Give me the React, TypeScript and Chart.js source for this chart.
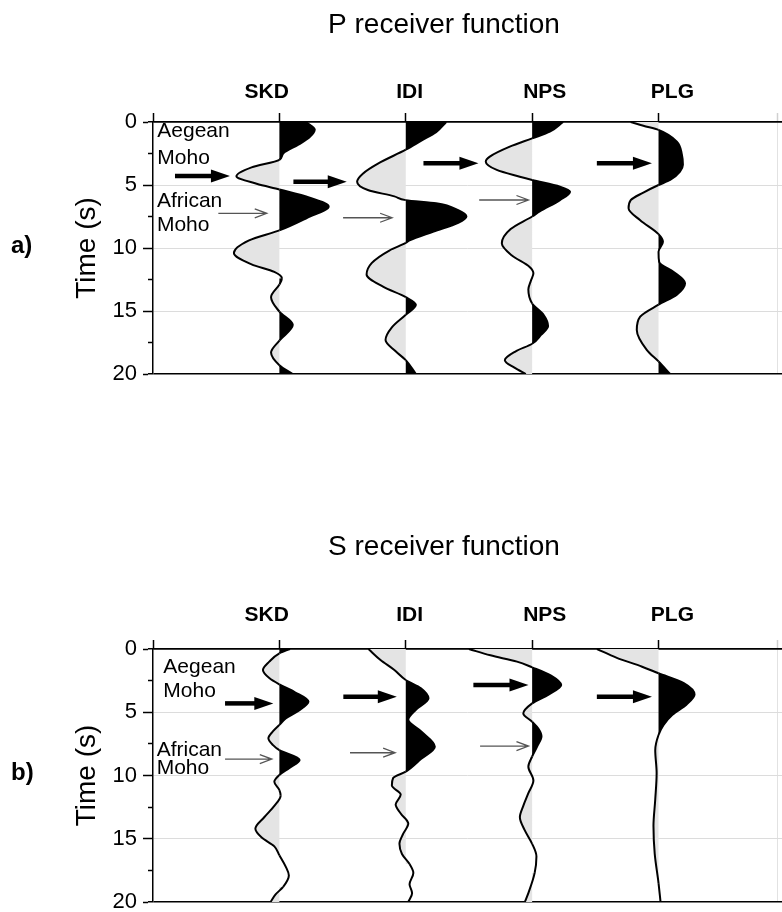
import React, { useEffect, useRef } from 'react';
import { Chart, registerables } from 'chart.js';

Chart.register(...registerables);

const FONT = '"Liberation Sans", Arial, Helvetica, sans-serif';
const POS_FILL = '#000000';
const NEG_FILL = '#e4e4e4';

// ---- axes / categories ----
const stations = ['SKD', 'IDI', 'NPS', 'PLG'];
const baselines = [100, 200, 300, 400]; // trace zero lines (x units, 100 = trace spacing)
const stationLabelX = [90, 203, 310, 411];
const timeTicks = [0, 5, 10, 15, 20];

// ---- P receiver functions (time in s, amplitude in trace units) ----
const pSkdTime = [0, 0.6, 1.2, 1.8, 2.5, 3.0, 3.6, 4.3, 4.9, 5.35, 6.0, 6.7, 7.6, 8.6, 9.4, 10.4, 11.3, 11.9, 12.4, 12.9, 13.9, 15.05, 16.1, 17.35, 18.3, 19.3, 20];
const pSkdAmp = [21, 28, 24, 15, 3, 0, -22, -34, -18, 0, 24, 39, 22, 0, -24, -36, -22, -4, 2, 0, -6.6, 0, 10.6, 0, -6.6, 0, 10.6];

const pIdiTime = [0, 0.8, 1.5, 2.2, 3.3, 4.1, 4.74, 5.4, 5.9, 6.2, 6.45, 7.0, 7.5, 8.0, 8.7, 9.4, 9.6, 10.2, 11.2, 12.1, 13.07, 13.9, 14.5, 15.3, 16.3, 17.3, 18.2, 18.9, 20];
const pIdiAmp = [32, 24, 12, 0, -22, -34, -38.5, -30, -9, 0, 24, 41.5, 48, 41.5, 22, 3, 0, -13, -27, -31, -18, 0, 8, 0, -11, -16, -8, 0, 8];

const pNpsTime = [0, 0.77, 1.3, 1.96, 2.75, 3.15, 3.8, 4.34, 4.6, 5.13, 5.53, 6.2, 7.1, 7.5, 8.5, 9.63, 10.6, 11.5, 12.0, 12.6, 13.3, 14.4, 15.3, 16.2, 16.9, 17.6, 18.2, 18.9, 19.5, 20];
const pNpsAmp = [24.5, 14, 0, -17.7, -33.5, -36.7, -28, -9.8, 0, 22, 30, 22, 6, 0, -17, -24, -16, -2, 1, -1, -3, 0, 9, 12.6, 7, 0, -13, -21.6, -14, -5];

const pPlgTime = [0, 0.3, 0.63, 1.56, 2.6, 3.4, 3.94, 4.6, 5.0, 5.6, 6.2, 6.85, 7.8, 8.9, 9.5, 10.3, 11.1, 11.9, 12.8, 13.7, 14.5, 15.45, 16.5, 18.1, 19.0, 20];
const pPlgAmp = [-22, -12, 0, 14.5, 18.5, 19.3, 17, 9.2, 0, -12, -22, -23.7, -14.5, 0, 3.5, 0, 0.5, 12, 21, 14.5, 0, -14.5, -17.2, -9.2, 0, 9.2];

// ---- S receiver functions ----
const sSkdTime = [0, 0.34, 1.0, 1.66, 2.3, 2.8, 3.4, 4.16, 4.9, 5.5, 6.0, 6.5, 7.06, 7.6, 8.0, 8.77, 9.4, 9.96, 10.5, 11.15, 11.6, 12.4, 13.3, 14.2, 14.9, 15.6, 16.3, 17.2, 17.9, 18.8, 19.4, 20];
const sSkdAmp = [8.4, 0, -8, -13, -8, 0, 12, 23, 15, 5, 0, -5, -8.7, -5, 0, 16, 8, 0, -4, 0, 1, -4, -12, -19, -14, -4, 0, 5, 7.5, 3, -3, -7];

const sIdiTime = [0, 0.87, 1.66, 2.45, 3.1, 3.9, 4.8, 5.6, 6.5, 7.72, 8.7, 9.7, 10.2, 10.8, 11.5, 12.3, 13.0, 13.8, 14.6, 15.4, 16.2, 17.0, 17.7, 18.6, 19.3, 20];
const sIdiAmp = [-29.5, -20, -9, 0, 12, 18, 8, 2, 12, 23, 12, 0, -10, -11, -4, -8, -4, 2, -2, -5, -3, 3, 6, 3, 5, 2];

const sNpsTime = [0, 0.5, 1.0, 1.45, 2.1, 2.85, 3.6, 4.3, 5.1, 5.75, 6.3, 6.9, 7.7, 8.5, 9.3, 10.4, 11.4, 12.4, 13.3, 14.3, 15.4, 16.4, 17.7, 19.3, 20];
const sNpsAmp = [-50, -33, -12, 0, 15, 23, 13, 0, -7, 0, 5, 7.4, 4, 0, -3, 1, -3, -7, -9.7, -6, 0, 3.4, 2, -3, -5.8];

const sPlgTime = [0, 0.7, 1.4, 1.92, 2.7, 3.6, 4.4, 5.2, 6.0, 6.8, 8.0, 9.8, 11.9, 14.0, 16.2, 18.5, 20];
const sPlgAmp = [-48.7, -33, -13, 0, 20, 28.5, 22, 11, 4, 0, -2.6, -1.5, -2.6, -4, -3, 0, 1.6];

// ---- annotations (x in trace units, time in s) ----
const noteText = ['Aegean', 'Moho', 'African', 'Moho'];
const pNoteX = [3.4, 3.4, 3.1, 3.1];
const pNoteT = [1.22, 3.33, 6.72, 8.63];
const sNoteX = [8.2, 8.2, 2.9, 2.9];
const sNoteT = [1.87, 3.82, 8.46, 9.88];

const pThickFrom = [17.4, 111.1, 214.0, 351.2];
const pThickTo = [60.9, 153.3, 257.5, 394.8];
const pThickT = [4.29, 4.74, 3.28, 3.28];
const pThinFrom = [51.7, 150.4, 258.1];
const pThinTo = [90.0, 189.2, 297.1];
const pThinT = [7.25, 7.6, 6.19];

const sThickFrom = [57.0, 150.6, 253.5, 351.2];
const sThickTo = [95.2, 192.9, 297.1, 394.8];
const sThickT = [4.3, 3.77, 2.85, 3.77];
const sThinFrom = [57.0, 155.9, 258.8];
const sThinTo = [94.0, 191.6, 297.1];
const sThinT = [8.7, 8.2, 7.67];

type Panel = {
  title: string;
  letter: string;
  times: number[][];
  amps: number[][];
  fillEnd: number;
  noteX: number[];
  noteT: number[];
  thickFrom: number[];
  thickTo: number[];
  thickT: number[];
  thinFrom: number[];
  thinTo: number[];
  thinT: number[];
  canvasTop: number;
  canvasHeight: number;
  areaTop: number;
  padBottom: number;
  titleDy: number;
  labelDy: number;
};

const panelA: Panel = {
  title: 'P receiver function',
  letter: 'a)',
  times: [pSkdTime, pIdiTime, pNpsTime, pPlgTime],
  amps: [pSkdAmp, pIdiAmp, pNpsAmp, pPlgAmp],
  fillEnd: 20,
  noteX: pNoteX, noteT: pNoteT,
  thickFrom: pThickFrom, thickTo: pThickTo, thickT: pThickT,
  thinFrom: pThinFrom, thinTo: pThinTo, thinT: pThinT,
  canvasTop: 0, canvasHeight: 456,
  areaTop: 122, padBottom: 82, titleDy: 89, labelDy: 24,
};

const panelB: Panel = {
  title: 'S receiver function',
  letter: 'b)',
  times: [sSkdTime, sIdiTime, sNpsTime, sPlgTime],
  amps: [sSkdAmp, sIdiAmp, sNpsAmp, sPlgAmp],
  fillEnd: 10,
  noteX: sNoteX, noteT: sNoteT,
  thickFrom: sThickFrom, thickTo: sThickTo, thickT: sThickT,
  thinFrom: sThinFrom, thinTo: sThinTo, thinT: sThinT,
  canvasTop: 456, canvasHeight: 490,
  areaTop: 193, padBottom: 44, titleDy: 94, labelDy: 28,
};

function drawThickArrow(ctx: CanvasRenderingContext2D, x0: number, x1: number, y: number) {
  const hl = 19, hw = 6.5;
  ctx.strokeStyle = '#000';
  ctx.fillStyle = '#000';
  ctx.lineWidth = 4.5;
  ctx.lineCap = 'butt';
  ctx.beginPath();
  ctx.moveTo(x0, y);
  ctx.lineTo(x1 - hl + 2, y);
  ctx.stroke();
  ctx.beginPath();
  ctx.moveTo(x1, y);
  ctx.lineTo(x1 - hl, y - hw);
  ctx.lineTo(x1 - hl, y + hw);
  ctx.closePath();
  ctx.fill();
}

function drawThinArrow(ctx: CanvasRenderingContext2D, x0: number, x1: number, y: number) {
  ctx.strokeStyle = '#555';
  ctx.lineWidth = 1.3;
  ctx.beginPath();
  ctx.moveTo(x0, y);
  ctx.lineTo(x1, y);
  ctx.moveTo(x1 - 12, y - 4.5);
  ctx.lineTo(x1, y);
  ctx.lineTo(x1 - 12, y + 4.5);
  ctx.stroke();
}

function buildConfig(p: Panel): any {
  const datasets = p.times.map((ts, i) => {
    const base = baselines[i];
    const amp = p.amps[i];
    return {
      label: stations[i],
      data: ts.map((t, k) => ({ x: base + amp[k], y: t })),
      xAxisID: 'x',
      yAxisID: 'y',
      borderColor: '#000',
      borderWidth: 2,
      pointRadius: 0,
      pointHoverRadius: 0,
      tension: 0.4,
      cubicInterpolationMode: 'monotone',
      fill: { value: base },
      backgroundColor: NEG_FILL,
      segment: {
        backgroundColor: (c: any) => {
          const positive = (c.p0.parsed.x + c.p1.parsed.x) / 2 > base;
          if (!positive) return NEG_FILL;
          return c.p0.parsed.y < p.fillEnd ? POS_FILL : 'rgba(0,0,0,0)';
        },
      },
    };
  });

  const annotate = {
    id: 'annotate',
    afterDraw(chart: any) {
      const { ctx, chartArea } = chart;
      const xs = chart.scales.x;
      const ys = chart.scales.y;
      ctx.save();
      ctx.fillStyle = '#000';
      // title
      ctx.font = `28px ${FONT}`;
      ctx.textAlign = 'center';
      ctx.textBaseline = 'alphabetic';
      ctx.fillText(p.title, 444, chartArea.top - p.titleDy);
      // station labels
      ctx.font = `bold 21px ${FONT}`;
      stations.forEach((s, i) => {
        ctx.fillText(s, xs.getPixelForValue(stationLabelX[i]), chartArea.top - p.labelDy);
      });
      // panel letter
      ctx.textAlign = 'left';
      ctx.font = `bold 24px ${FONT}`;
      ctx.fillText(p.letter, 11, chartArea.top + 131);
      // notes
      ctx.font = `21px ${FONT}`;
      noteText.forEach((s, i) => {
        ctx.fillText(s, xs.getPixelForValue(p.noteX[i]), ys.getPixelForValue(p.noteT[i]));
      });
      // arrows
      p.thickFrom.forEach((x0, i) => {
        drawThickArrow(ctx, xs.getPixelForValue(x0), xs.getPixelForValue(p.thickTo[i]), ys.getPixelForValue(p.thickT[i]));
      });
      p.thinFrom.forEach((x0, i) => {
        drawThinArrow(ctx, xs.getPixelForValue(x0), xs.getPixelForValue(p.thinTo[i]), ys.getPixelForValue(p.thinT[i]));
      });
      ctx.restore();
    },
  };

  return {
    type: 'line',
    data: { datasets },
    plugins: [annotate],
    options: {
      indexAxis: 'y',
      responsive: false,
      animation: false,
      events: [],
      layout: { padding: { top: 0, left: 0, right: 0, bottom: p.padBottom } },
      plugins: { legend: { display: false }, title: { display: false }, tooltip: { enabled: false } },
      scales: {
        x: {
          type: 'linear',
          position: 'top',
          min: 0,
          max: 497.7,
          afterBuildTicks: (s: any) => {
            s.ticks = [0, ...baselines, 494].map((v) => ({ value: v }));
          },
          afterFit: (s: any) => { s.height = p.areaTop; },
          ticks: { display: false },
          grid: {
            drawOnChartArea: true,
            color: (c: any) => (c.tick && c.tick.value === 494 ? '#e2e2e2' : 'rgba(0,0,0,0)'),
            tickColor: (c: any) => (c.tick && c.tick.value === 494 ? '#d0d0d0' : '#000'),
            tickLength: 9,
            tickWidth: 1.5,
            lineWidth: 1,
          },
          border: { display: true, color: '#000', width: 1.5 },
        },
        y: {
          type: 'linear',
          position: 'left',
          weight: 0,
          reverse: true,
          min: 0,
          max: 20,
          ticks: { display: false, stepSize: 2.5 },
          afterFit: (s: any) => { s.width = 5; },
          grid: {
            drawOnChartArea: true,
            color: (c: any) => {
              const v = c.tick ? c.tick.value : -1;
              if (v === 0 || v === 20) return '#000';
              return v % 5 === 0 ? '#dcdcdc' : 'rgba(0,0,0,0)';
            },
            lineWidth: (c: any) => {
              const v = c.tick ? c.tick.value : -1;
              return v === 0 || v === 20 ? 1.5 : 1;
            },
            tickColor: '#000',
            tickLength: 5,
            tickWidth: 1.5,
          },
          border: { display: true, color: '#000', width: 1.5 },
        },
        y2: {
          type: 'linear',
          position: 'left',
          weight: 1,
          reverse: true,
          min: 0,
          max: 20,
          afterBuildTicks: (s: any) => {
            s.ticks = timeTicks.map((v) => ({ value: v }));
          },
          afterFit: (s: any) => { s.width = 148; },
          ticks: { color: '#000', font: { family: FONT, size: 22 }, padding: 6 },
          grid: { drawOnChartArea: false, tickColor: '#000', tickLength: 5, tickWidth: 1.5 },
          border: { display: false },
          title: {
            display: true,
            text: 'Time (s)',
            color: '#000',
            font: { family: FONT, size: 28 },
            padding: { top: 70, bottom: 0 },
          },
        },
      },
    },
  };
}

function PanelChart({ panel }: { panel: Panel }) {
  const ref = useRef<HTMLCanvasElement>(null);
  useEffect(() => {
    const chart = new Chart(ref.current as HTMLCanvasElement, buildConfig(panel));
    return () => chart.destroy();
  }, [panel]);
  return (
    <canvas
      ref={ref}
      width={782}
      height={panel.canvasHeight}
      style={{ position: 'absolute', left: 0, top: panel.canvasTop, display: 'block', width: 782, height: panel.canvasHeight }}
    />
  );
}

export default function App() {
  return (
    <div style={{ position: 'absolute', left: 0, top: 0, width: 782, height: 912, background: '#fff', overflow: 'hidden' }}>
      <PanelChart panel={panelA} />
      <PanelChart panel={panelB} />
    </div>
  );
}
